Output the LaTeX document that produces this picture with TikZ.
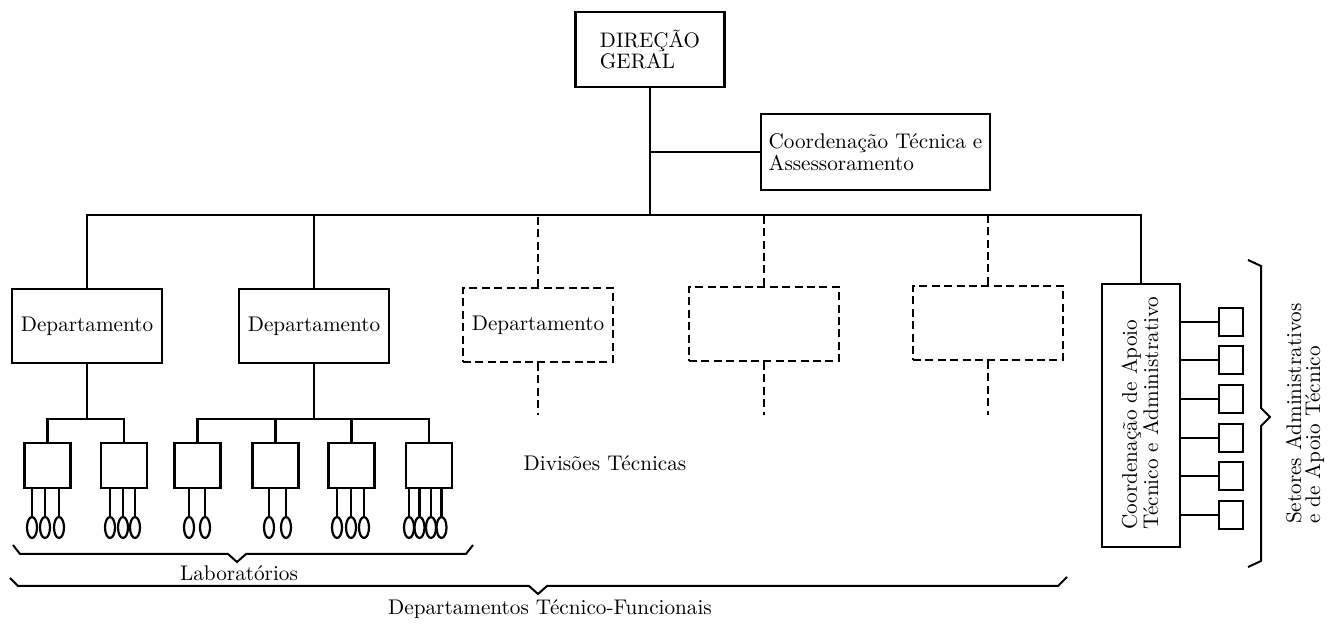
\documentclass[tikz,border=0pt]{standalone}
\usetikzlibrary{shapes.geometric}
\begin{document}
\begin{tikzpicture}[x=0.5pt,y=-0.5pt, line width=1.1pt,
 txt/.style={font=\fontsize{10.6pt}{9.5pt}\selectfont, inner sep=0pt},
 box/.style={draw, rectangle, txt, minimum width=75pt, minimum height=37pt, align=center},
 dline/.style={dash pattern=on 4pt off 2.2pt},
 dbox/.style={box, dline},
 lab/.style={draw, minimum width=23pt, minimum height=22.5pt, inner sep=0pt},
 oval/.style={draw, ellipse, minimum width=5pt, minimum height=10.5pt, inner sep=0pt},
 sbox/.style={draw, minimum width=12pt, minimum height=14pt, inner sep=0pt},
 brace/.style={line width=1pt}]
\useasboundingbox[fill=white] (0,0) rectangle (1328,624);

% top
\node[box, minimum width=74.5pt, minimum height=37.5pt, font=\fontsize{10.5pt}{8pt}\selectfont, align=left] (dg) at (650,49.5) {DIREÇÃO\\GERAL};
\node[box, minimum width=114.5pt, minimum height=38pt, align=left] (cta) at (875.5,152) {Coordenação Técnica e\\Assessoramento};

\coordinate (bl) at (87,215);
\coordinate (bm) at (650,215);
\coordinate (br) at (1141,215);
\coordinate (ct) at (650,152);
\coordinate (dend) at (0,415);

% departments
\node[box] (d1) at (87,326) {Departamento};
\node[box] (d2) at (314,326) {Departamento};
\node[dbox] (d3) at (538,325) {Departamento};
\node[dbox] (d4) at (764,324) {};
\node[dbox] (d5) at (988,323) {};
\node[draw, minimum width=39pt, minimum height=131.5pt, inner sep=0pt] (capa) at (1141,415.5) {};
\node[txt, rotate=90, anchor=west, align=left] (capat) at (1140,531) {Coordenação de Apoio\\Técnico e Administrativo};

\draw (dg.south) -- (bm);
\draw (ct) -- (cta.west);
\draw (d1.north) -- (bl) -- (br) -- (capa.north);
\draw (d2.north) -- (d2.north |- bl);
\foreach \d in {d3,d4,d5}{
  \draw[dline] (\d.north) -- (\d.north |- bl);
  \draw[dline] (\d.south) -- (\d.south |- dend);
}

% laboratories
\coordinate (h1) at (87,419);
\coordinate (h2) at (314,419);
\draw (d1.south) -- (h1);
\draw (d2.south) -- (h2);
\foreach \n/\x in {1/47.5,2/124,3/197.5,4/275.5,5/351.5,6/429}
  \node[lab] (L\n) at (\x,465.5) {};
\draw (L1.north) |- (h1) -| (L2.north);
\draw (L3.north) |- (h2) -| (L6.north);
\draw (L4.north) -- (L4.north |- h2);
\draw (L5.north) -- (L5.north |- h2);

\foreach \l/\xs in {1/{32,45,59},2/{110,123,135},3/{189,205},4/{269,286},5/{337,351,364},6/{409,419.5,431,441.5}}{
  \foreach \x [count=\k] in \xs {
    \node[oval] (o\l-\k) at (\x,527.5) {};
    \draw (o\l-\k.north) -- (o\l-\k.north |- L\l.south);
  }
}

% support sectors
\foreach \k/\y in {1/322,2/360,3/399,4/438,5/476,6/515}{
  \node[sbox] (s\k) at (1231,\y) {};
  \draw (capa.east |- s\k) -- (s\k.west);
}

% braces
\draw[brace] (1248,260) -- (1261,266) -- (1261,408) -- (1270,417) -- (1261,426) -- (1261,561) -- (1248,567);
\draw[brace] (13,545) -- (20,554) -- (228,554) -- (237,562) -- (246,554) -- (466,554) -- (473,545);
\draw[brace] (10,578) -- (18,586) -- (529,586) -- (538,594) -- (547,586) -- (1058,586) -- (1067,577);

% labels
\node[txt] (labt) at (239,573) {Laboratórios};
\node[txt] (dtf) at (550,609) {Departamentos Técnico-Funcionais};
\node[txt] (divt) at (605,463) {Divisões Técnicas};
\node[txt, rotate=90, anchor=west, align=left] (set) at (1305,525) {Setores Administrativos\\e de Apoio Técnico};
\end{tikzpicture}
\end{document}
